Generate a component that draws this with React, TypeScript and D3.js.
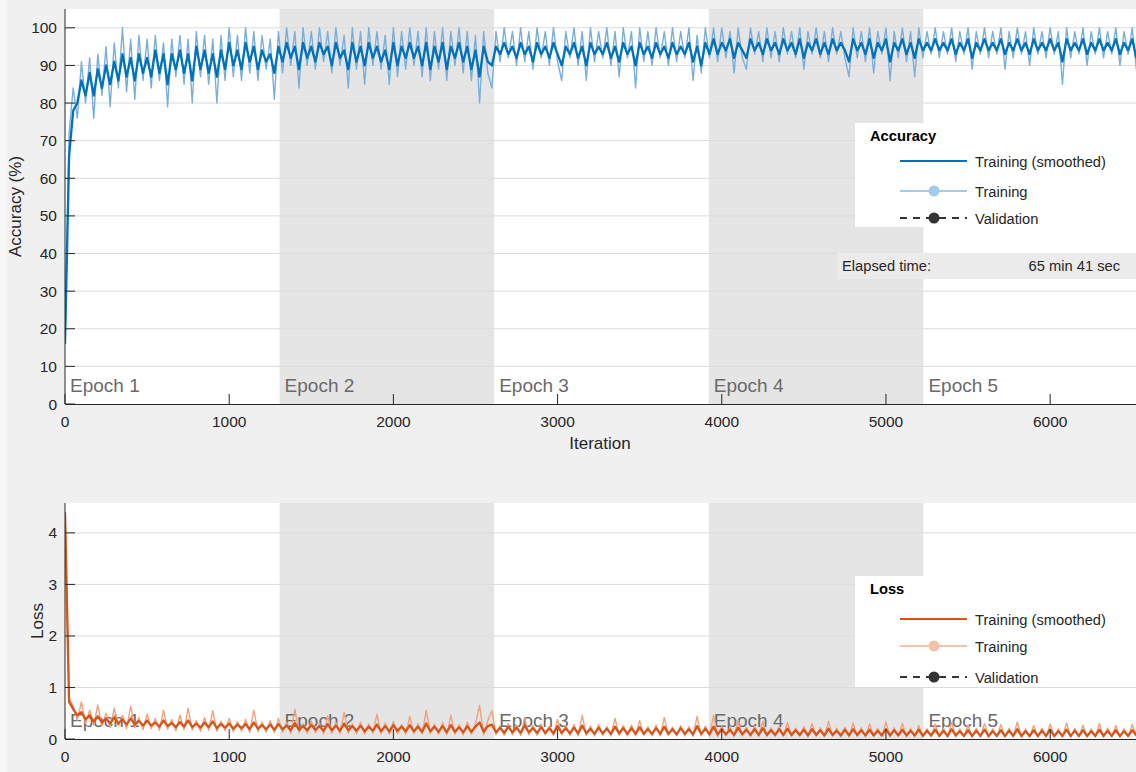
import React from "react";
import * as d3 from "d3";

// iterations are sampled every ITER_STEP
const ITER_STEP = 25;
const EPOCH_EDGES = [0, 1307, 2614, 3921, 5228, 6535];
const EPOCH_LABELS = ["Epoch 1", "Epoch 2", "Epoch 3", "Epoch 4", "Epoch 5"];
const X_TICKS = [0, 1000, 2000, 3000, 4000, 5000, 6000];
const ACC_TICKS = [0, 10, 20, 30, 40, 50, 60, 70, 80, 90, 100];
const LOSS_TICKS = [0, 1, 2, 3, 4];
const LEGEND_ITEMS = ["Training (smoothed)", "Training", "Validation"];
const ELAPSED = ["Elapsed time:", "65 min 41 sec"];

const accRaw = [
  16, 72, 84, 76, 91, 80, 92, 76, 93, 82,
  95, 79, 96, 84, 100, 83, 97, 81, 98, 86,
  97, 84, 98, 86, 96, 79, 97, 87, 98, 85,
  97, 80, 99, 87, 98, 85, 97, 80, 98, 86,
  100, 87, 98, 86, 100, 88, 99, 86, 98, 89,
  97, 81, 99, 88, 100, 90, 99, 84, 100, 90,
  99, 89, 100, 91, 99, 88, 100, 90, 98, 84,
  100, 89, 99, 85, 100, 90, 99, 89, 98, 85,
  100, 87, 99, 89, 100, 90, 99, 87, 100, 86,
  99, 89, 100, 86, 99, 90, 100, 88, 99, 86,
  98, 80, 99, 88, 84, 99, 91, 100, 92, 99,
  90, 100, 91, 99, 89, 100, 92, 99, 90, 100,
  91, 86, 99, 92, 100, 90, 99, 86, 100, 91,
  99, 92, 100, 90, 99, 87, 100, 92, 99, 84,
  100, 91, 99, 90, 100, 92, 99, 90, 100, 91,
  99, 92, 100, 86, 98, 88, 100, 92, 100, 91,
  100, 92, 99, 88, 100, 92, 89, 100, 93, 99,
  91, 100, 92, 99, 91, 100, 93, 99, 92, 100,
  89, 99, 93, 100, 92, 99, 91, 100, 93, 99,
  92, 87, 100, 92, 99, 91, 100, 88, 99, 93,
  100, 86, 99, 92, 100, 91, 99, 87, 100, 92,
  99, 93, 100, 92, 99, 93, 100, 91, 99, 93,
  100, 89, 99, 93, 100, 92, 99, 93, 100, 89,
  99, 92, 100, 93, 99, 90, 100, 93, 99, 92,
  100, 93, 99, 85, 100, 92, 99, 93, 100, 90,
  99, 93, 100, 92, 99, 93, 100, 90, 99, 93,
  100, 89,
];

const accSmooth = [
  16, 66, 78, 80, 86, 82, 88, 82, 89, 84,
  90, 85, 91, 86, 93, 87, 92, 86, 93, 88,
  92, 87, 94, 88, 93, 85, 93, 89, 94, 88,
  93, 86, 95, 89, 94, 88, 93, 87, 94, 89,
  96, 90, 94, 89, 96, 91, 95, 89, 94, 91,
  93, 88, 95, 91, 96, 92, 95, 89, 96, 92,
  95, 91, 96, 93, 95, 90, 96, 92, 94, 89,
  96, 91, 95, 90, 96, 92, 95, 91, 94, 89,
  96, 90, 95, 92, 96, 92, 95, 90, 96, 89,
  95, 91, 96, 89, 95, 92, 96, 91, 95, 89,
  94, 87, 95, 91, 90, 95, 93, 96, 93, 95,
  92, 96, 93, 95, 91, 96, 93, 95, 92, 96,
  93, 90, 95, 93, 96, 92, 95, 90, 96, 93,
  95, 93, 96, 92, 95, 91, 96, 93, 95, 90,
  96, 93, 95, 92, 96, 93, 95, 92, 96, 93,
  95, 93, 96, 91, 95, 90, 96, 93, 97, 93,
  96, 94, 97, 92, 96, 94, 92, 97, 94, 96,
  93, 97, 94, 96, 93, 97, 94, 96, 93, 97,
  92, 96, 94, 97, 93, 96, 93, 97, 94, 96,
  94, 91, 97, 94, 96, 93, 97, 92, 96, 94,
  97, 91, 96, 94, 97, 93, 96, 92, 97, 94,
  96, 94, 97, 94, 96, 94, 97, 93, 96, 94,
  97, 92, 96, 94, 97, 94, 96, 94, 97, 93,
  96, 94, 97, 94, 96, 93, 97, 94, 96, 94,
  97, 94, 96, 91, 97, 94, 96, 94, 97, 93,
  96, 94, 97, 94, 96, 94, 97, 93, 96, 94,
  97, 92,
];

const lossRaw = [
  4.4, 0.78, 0.64, 0.36, 0.72, 0.3, 0.56, 0.27, 0.66, 0.25,
  0.5, 0.22, 0.6, 0.25, 0.46, 0.2, 0.64, 0.22, 0.42, 0.18,
  0.48, 0.2, 0.4, 0.17, 0.56, 0.19, 0.38, 0.16, 0.46, 0.18,
  0.6, 0.17, 0.36, 0.15, 0.42, 0.17, 0.55, 0.15, 0.35, 0.16,
  0.4, 0.14, 0.34, 0.15, 0.38, 0.13, 0.56, 0.14, 0.33, 0.13,
  0.36, 0.12, 0.4, 0.13, 0.32, 0.11, 0.58, 0.12, 0.3, 0.11,
  0.34, 0.12, 0.3, 0.1, 0.45, 0.11, 0.32, 0.1, 0.52, 0.11,
  0.3, 0.1, 0.33, 0.09, 0.29, 0.11, 0.48, 0.1, 0.31, 0.09,
  0.34, 0.1, 0.28, 0.09, 0.44, 0.1, 0.3, 0.09, 0.56, 0.1,
  0.29, 0.09, 0.32, 0.08, 0.46, 0.09, 0.28, 0.08, 0.33, 0.09,
  0.3, 0.65, 0.08, 0.36, 0.55, 0.08, 0.26, 0.07, 0.3, 0.08,
  0.27, 0.07, 0.42, 0.08, 0.26, 0.07, 0.29, 0.08, 0.25, 0.07,
  0.38, 0.08, 0.26, 0.07, 0.28, 0.06, 0.46, 0.07, 0.25, 0.06,
  0.28, 0.07, 0.24, 0.06, 0.4, 0.07, 0.26, 0.06, 0.27, 0.06,
  0.36, 0.07, 0.24, 0.06, 0.27, 0.06, 0.42, 0.07, 0.23, 0.06,
  0.26, 0.06, 0.24, 0.05, 0.44, 0.06, 0.25, 0.06, 0.46, 0.05,
  0.24, 0.06, 0.22, 0.05, 0.36, 0.06, 0.23, 0.05, 0.25, 0.05,
  0.34, 0.05, 0.22, 0.05, 0.24, 0.05, 0.32, 0.05, 0.21, 0.05,
  0.24, 0.04, 0.3, 0.05, 0.22, 0.04, 0.34, 0.05, 0.21, 0.04,
  0.23, 0.04, 0.31, 0.05, 0.22, 0.04, 0.29, 0.05, 0.21, 0.04,
  0.33, 0.04, 0.22, 0.05, 0.3, 0.04, 0.21, 0.04, 0.26, 0.04,
  0.2, 0.04, 0.29, 0.04, 0.21, 0.03, 0.32, 0.04, 0.2, 0.04,
  0.27, 0.03, 0.21, 0.04, 0.3, 0.03, 0.2, 0.04, 0.28, 0.03,
  0.21, 0.04, 0.33, 0.03, 0.2, 0.04, 0.26, 0.03, 0.21, 0.04,
  0.29, 0.03, 0.2, 0.04, 0.31, 0.03, 0.21, 0.04, 0.27, 0.03,
  0.2, 0.04, 0.3, 0.03, 0.21, 0.04, 0.26, 0.03, 0.2, 0.04,
  0.28, 0.05,
];

const lossSmooth = [
  4.4, 0.72, 0.58, 0.46, 0.52, 0.38, 0.46, 0.34, 0.44, 0.32,
  0.4, 0.3, 0.42, 0.3, 0.38, 0.28, 0.4, 0.28, 0.35, 0.26,
  0.36, 0.26, 0.32, 0.24, 0.36, 0.25, 0.31, 0.23, 0.33, 0.24,
  0.36, 0.23, 0.3, 0.22, 0.32, 0.23, 0.34, 0.21, 0.29, 0.22,
  0.3, 0.2, 0.28, 0.21, 0.29, 0.19, 0.32, 0.2, 0.27, 0.19,
  0.28, 0.18, 0.29, 0.19, 0.26, 0.17, 0.31, 0.18, 0.25, 0.17,
  0.27, 0.18, 0.25, 0.16, 0.29, 0.17, 0.26, 0.16, 0.3, 0.17,
  0.25, 0.16, 0.26, 0.15, 0.24, 0.16, 0.28, 0.15, 0.25, 0.15,
  0.27, 0.16, 0.24, 0.15, 0.27, 0.15, 0.24, 0.14, 0.3, 0.15,
  0.24, 0.14, 0.25, 0.13, 0.27, 0.14, 0.23, 0.13, 0.25, 0.14,
  0.24, 0.32, 0.14, 0.25, 0.28, 0.13, 0.22, 0.12, 0.24, 0.13,
  0.22, 0.12, 0.26, 0.13, 0.21, 0.12, 0.23, 0.12, 0.21, 0.11,
  0.25, 0.12, 0.21, 0.11, 0.22, 0.11, 0.26, 0.11, 0.2, 0.1,
  0.22, 0.11, 0.2, 0.1, 0.24, 0.11, 0.21, 0.1, 0.21, 0.1,
  0.23, 0.1, 0.19, 0.1, 0.21, 0.1, 0.24, 0.1, 0.19, 0.09,
  0.21, 0.1, 0.19, 0.09, 0.25, 0.1, 0.2, 0.09, 0.24, 0.09,
  0.19, 0.09, 0.18, 0.08, 0.22, 0.09, 0.18, 0.08, 0.19, 0.08,
  0.21, 0.08, 0.17, 0.08, 0.19, 0.08, 0.2, 0.08, 0.17, 0.08,
  0.18, 0.07, 0.19, 0.08, 0.17, 0.07, 0.2, 0.08, 0.16, 0.07,
  0.18, 0.07, 0.19, 0.08, 0.17, 0.07, 0.18, 0.07, 0.16, 0.07,
  0.19, 0.07, 0.17, 0.07, 0.18, 0.07, 0.16, 0.07, 0.18, 0.06,
  0.16, 0.07, 0.18, 0.06, 0.16, 0.06, 0.19, 0.07, 0.15, 0.06,
  0.17, 0.06, 0.16, 0.06, 0.18, 0.06, 0.15, 0.06, 0.17, 0.06,
  0.16, 0.06, 0.19, 0.06, 0.15, 0.06, 0.17, 0.06, 0.16, 0.06,
  0.18, 0.06, 0.15, 0.06, 0.18, 0.06, 0.16, 0.06, 0.17, 0.06,
  0.15, 0.06, 0.18, 0.06, 0.16, 0.06, 0.17, 0.06, 0.15, 0.06,
  0.17, 0.07,
];

const W = 1136;
const H = 772;
const FONT = "'Liberation Sans', Arial, Helvetica, sans-serif";
const INK = "#262626";

const x = d3.scaleLinear().domain([0, EPOCH_EDGES[5]]).range([65, 1138]);

function Legend({ title, top, rows, bottom, lineColor, rawColor }) {
  return (
    <g fontFamily={FONT} fontSize={14.7} fill={INK}>
      <rect x={855} y={top} width={W - 855} height={bottom - top} fill="#fff" />
      <text x={870} y={top + 18} fontWeight="bold" fill="#000">{title}</text>
      <line x1={900} x2={967} y1={rows[0]} y2={rows[0]} stroke={lineColor} strokeWidth={2} />
      <line x1={900} x2={967} y1={rows[1]} y2={rows[1]} stroke={rawColor} strokeWidth={2} />
      <circle cx={934} cy={rows[1]} r={5.5} fill={rawColor} />
      <line x1={900} x2={967} y1={rows[2]} y2={rows[2]} stroke="#333" strokeWidth={2} strokeDasharray="7 6" />
      <circle cx={934} cy={rows[2]} r={5.5} fill="#333" />
      {LEGEND_ITEMS.map((s, i) => (
        <text key={s} x={975} y={rows[i] + 6}>{s}</text>
      ))}
    </g>
  );
}

function Panel(props) {
  const { id, top, bottom, domain, ticks, raw, smooth, rawColor, smoothColor, yLabel, yLabelX } = props;
  const y = d3.scaleLinear().domain(domain).range([bottom, top]);
  const line = d3
    .line<number>()
    .x((d, i) => x(i * ITER_STEP))
    .y((d) => y(d));

  return (
    <g>
      <defs>
        <clipPath id={`${id}-clip`}>
          <rect x={65} y={top} width={x.range()[1] - 65} height={bottom - top} />
        </clipPath>
      </defs>
      <rect x={65} y={top} width={W - 65} height={bottom - top} fill="#fff" />
      {EPOCH_LABELS.map((e, i) =>
        i % 2 === 1 ? (
          <rect
            key={e}
            x={x(EPOCH_EDGES[i])}
            y={top}
            width={x(EPOCH_EDGES[i + 1]) - x(EPOCH_EDGES[i])}
            height={bottom - top}
            fill="#e5e5e5"
          />
        ) : null
      )}
      {ticks.slice(1).map((t) => (
        <line key={t} x1={65} x2={W} y1={y(t)} y2={y(t)} stroke="#dcdcdc" strokeWidth={1} />
      ))}
      {EPOCH_LABELS.map((e, i) => (
        <text key={e} x={x(EPOCH_EDGES[i]) + 5} y={bottom - 12} fontFamily={FONT} fontSize={19} fill="#6a6a6a">
          {e}
        </text>
      ))}
      <g clipPath={`url(#${id}-clip)`} fill="none" strokeLinejoin="round">
        <path d={line(raw)} stroke={rawColor} strokeWidth={1.4} />
        <path d={line(smooth)} stroke={smoothColor} strokeWidth={2.3} />
      </g>
      {/* axes */}
      <line x1={65} x2={65} y1={top} y2={bottom} stroke={INK} />
      <line x1={65} x2={W} y1={bottom + 0.5} y2={bottom + 0.5} stroke={INK} />
      <g fontFamily={FONT} fontSize={15.5} fill={INK}>
        {ticks.map((t) => (
          <g key={t}>
            <line x1={65} x2={75} y1={y(t)} y2={y(t)} stroke={INK} />
            <text x={57} y={y(t) + 5.5} textAnchor="end">{t}</text>
          </g>
        ))}
        {X_TICKS.map((t) => (
          <g key={t}>
            <line x1={x(t)} x2={x(t)} y1={bottom} y2={bottom - 10} stroke={INK} />
            <text x={x(t)} y={bottom + 23} textAnchor="middle">{t}</text>
          </g>
        ))}
        <text x={600} y={bottom + 45} textAnchor="middle" fontSize={17}>Iteration</text>
        <text
          transform={`translate(${yLabelX},${(top + bottom) / 2}) rotate(-90)`}
          textAnchor="middle"
          fontSize={17}
        >
          {yLabel}
        </text>
      </g>
    </g>
  );
}

export default function App() {
  return (
    <div style={{ position: "absolute", left: 0, top: 0 }}>
      <svg width={W} height={H} style={{ display: "block" }}>
        <rect width={W} height={H} fill="#f0f0f0" />
        <rect width={7} height={H} fill="#f7f7f7" />
        <Panel
          id="acc"
          top={9}
          bottom={404}
          domain={[0, 105]}
          ticks={ACC_TICKS}
          raw={accRaw}
          smooth={accSmooth}
          rawColor="#7aafdc"
          smoothColor="#0072bd"
          yLabel="Accuracy (%)"
          yLabelX={21}
        />
        <Panel
          id="loss"
          top={503}
          bottom={739}
          domain={[0, 4.58]}
          ticks={LOSS_TICKS}
          raw={lossRaw}
          smooth={lossSmooth}
          rawColor="#f0a27c"
          smoothColor="#d95319"
          yLabel="Loss"
          yLabelX={43}
        />
        <Legend title="Accuracy" top={123} bottom={227} rows={[161, 191, 218]} lineColor="#0072bd" rawColor="#a6cbe8" />
        <g fontFamily={FONT} fontSize={14.7} fill={INK}>
          <rect x={837} y={253} width={W - 837} height={26} fill="#ebebeb" />
          <text x={842} y={271}>{ELAPSED[0]}</text>
          <text x={1120} y={271} textAnchor="end">{ELAPSED[1]}</text>
        </g>
        <Legend title="Loss" top={576} bottom={687} rows={[619, 646, 677]} lineColor="#d95319" rawColor="#f4c2aa" />
      </svg>
    </div>
  );
}
